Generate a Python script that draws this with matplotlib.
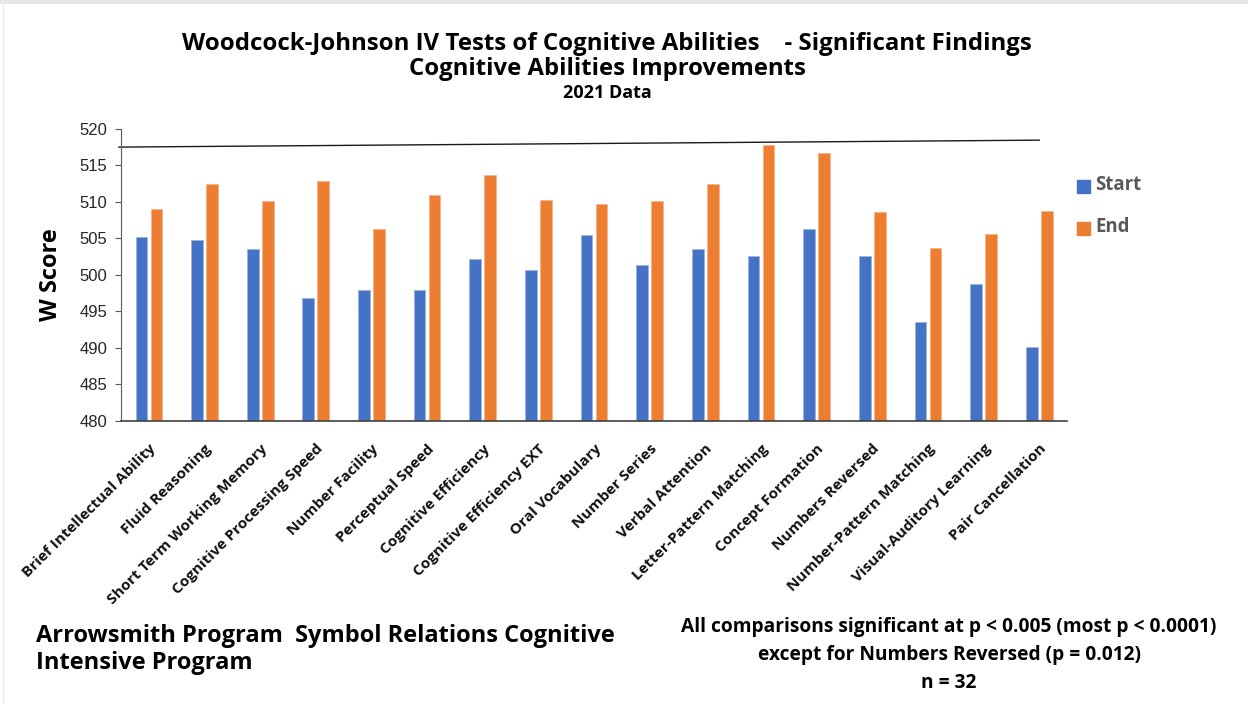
import matplotlib
matplotlib.use("Agg")
import matplotlib.pyplot as plt
import numpy as np

categories = [
    "Brief Intellectual Ability", "Fluid Reasoning", "Short Term Working Memory",
    "Cognitive Processing Speed", "Number Facility", "Perceptual Speed",
    "Cognitive Efficiency", "Cognitive Efficiency EXT", "Oral Vocabulary",
    "Number Series", "Verbal Attention", "Letter-Pattern Matching",
    "Concept Formation", "Numbers Reversed", "Number-Pattern Matching",
    "Visual-Auditory Learning", "Pair Cancellation",
]
start_scores = [505.2, 504.8, 503.5, 496.9, 498.0, 498.0, 502.2, 500.7, 505.4,
                501.4, 503.5, 502.6, 506.3, 502.6, 493.5, 498.8, 490.1]
end_scores = [509.0, 512.4, 510.1, 512.9, 506.3, 510.9, 513.7, 510.3, 509.7,
              510.1, 512.4, 517.8, 516.7, 508.6, 503.7, 505.6, 508.8]
y_ticks = [480, 485, 490, 495, 500, 505, 510, 515, 520]

FONT = "Open Sans"
BLUE = "#4472C4"
ORANGE = "#ED7D31"

fig = plt.figure(figsize=(12.48, 7.04), dpi=100)
ax = fig.add_axes([0.097, 0.402, 0.758, 0.415])

x = np.arange(len(categories))
w = 0.21
off = 0.135
ax.bar(x - off, start_scores, w, color=BLUE, edgecolor="#9DB3E0", linewidth=0.6,
       label="Start")
ax.bar(x + off, end_scores, w, color=ORANGE, edgecolor="#F5B48A", linewidth=0.6,
       label="End")

ax.set_xlim(-0.5, len(categories) - 0.5)
ax.set_ylim(480, 520)
ax.set_yticks(y_ticks)
ax.set_yticklabels([str(t) for t in y_ticks], fontfamily="Liberation Sans",
                   fontsize=12, color="#262626")
ax.tick_params(axis="y", length=4, width=0.8, color="#595959", pad=6)

ax.set_xticks(x)
ax.set_xticklabels(categories, rotation=45, ha="right", rotation_mode="anchor",
                   fontfamily=FONT, fontweight="bold", fontsize=11,
                   color="#111111")
ax.tick_params(axis="x", length=0, pad=15)

for s in ["top", "right"]:
    ax.spines[s].set_visible(False)
ax.spines["left"].set_color("#595959")
ax.spines["bottom"].set_color("#404040")
ax.spines["bottom"].set_linewidth(1.2)

# thin reference line across the top of the plot
ax.plot([-0.54, 16.0], [517.5, 518.45], color="#1a1a1a", linewidth=1.0,
        clip_on=False)

ax.set_ylabel("W Score", fontfamily=FONT, fontweight="bold", fontsize=17,
              labelpad=12)

# legend
fig.patches.append(plt.Rectangle((1077 / 1248, 1 - 193 / 704), 13 / 1248, 13 / 704,
                                 transform=fig.transFigure, color=BLUE))
fig.patches.append(plt.Rectangle((1077 / 1248, 1 - 235 / 704), 13 / 1248, 13 / 704,
                                 transform=fig.transFigure, color=ORANGE))
fig.text(1095 / 1248, 1 - 185 / 704, "Start", fontfamily=FONT, fontweight="bold",
         fontsize=13.4, color="#595959", va="center")
fig.text(1095 / 1248, 1 - 227 / 704, "End", fontfamily=FONT, fontweight="bold",
         fontsize=13.4, color="#595959", va="center")

# titles
cx = 607 / 1248
fig.text(cx, 1 - 44 / 704, "Woodcock-Johnson IV Tests of Cognitive Abilities    - Significant Findings",
         fontfamily=FONT, fontweight="bold", fontsize=17.3, ha="center", va="center")
fig.text(cx, 1 - 69 / 704, "Cognitive Abilities Improvements",
         fontfamily=FONT, fontweight="bold", fontsize=17.2, ha="center", va="center")
fig.text(cx, 1 - 93 / 704, "2021 Data",
         fontfamily=FONT, fontweight="bold", fontsize=13, ha="center", va="center")

# footnotes
fig.text(36 / 1248, 1 - 636 / 704, "Arrowsmith Program  Symbol Relations Cognitive",
         fontfamily=FONT, fontweight="bold", fontsize=17, ha="left", va="center")
fig.text(36 / 1248, 1 - 663 / 704, "Intensive Program",
         fontfamily=FONT, fontweight="bold", fontsize=17, ha="left", va="center")
rx = 949 / 1248
fig.text(rx, 1 - 627 / 704, "All comparisons significant at p < 0.005 (most p < 0.0001)",
         fontfamily=FONT, fontweight="bold", fontsize=13.8, ha="center", va="center")
fig.text(rx, 1 - 655 / 704, "except for Numbers Reversed (p = 0.012)",
         fontfamily=FONT, fontweight="bold", fontsize=13.8, ha="center", va="center")
fig.text(rx, 1 - 683 / 704, "n = 32",
         fontfamily=FONT, fontweight="bold", fontsize=13.8, ha="center", va="center")

# light frame at top and left edges
fig.add_artist(plt.Line2D([0, 1], [0.997, 0.997], transform=fig.transFigure,
                          color="#e6e6e6", linewidth=3))
fig.add_artist(plt.Line2D([0.0025, 0.0025], [0, 1], transform=fig.transFigure,
                          color="#ececec", linewidth=1))

fig.savefig("out.png", dpi=100, facecolor="white")
